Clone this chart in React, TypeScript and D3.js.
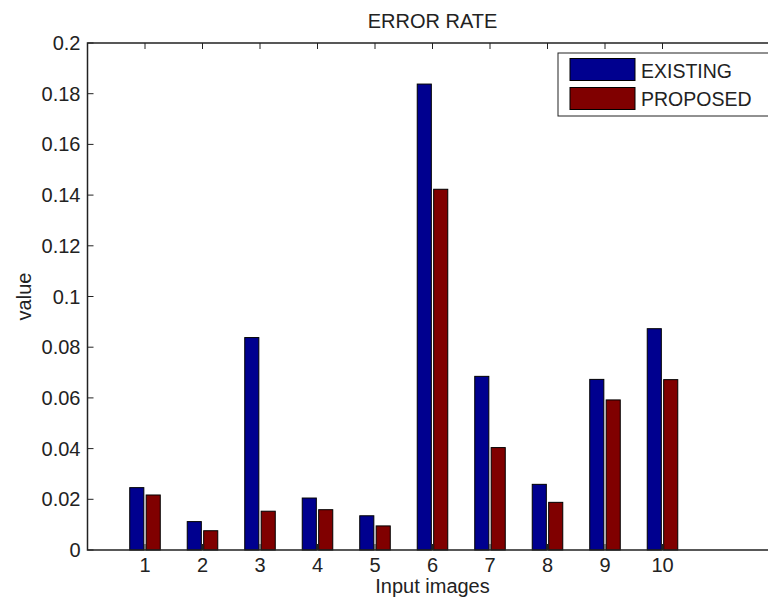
import React from 'react';
import * as d3 from 'd3';

const categories = ['1', '2', '3', '4', '5', '6', '7', '8', '9', '10'];
const existing = [0.0246, 0.0112, 0.0838, 0.0205, 0.0135, 0.1838, 0.0685, 0.0259, 0.0673, 0.0873];
const proposed = [0.0217, 0.0076, 0.0153, 0.0159, 0.0095, 0.1423, 0.0404, 0.0188, 0.0592, 0.0672];
const yTicks = [0, 0.02, 0.04, 0.06, 0.08, 0.1, 0.12, 0.14, 0.16, 0.18, 0.2];
const seriesNames = ['EXISTING', 'PROPOSED'];
const seriesColors = ['#00008f', '#800000'];

const WIDTH = 768,
    HEIGHT = 605;

const AXES = {
    LEFT: 87.5,
    RIGHT: 777.5,
    TOP: 43,
    BOTTOM: 550
};

const FONT = '"Liberation Sans", Arial, sans-serif';

// grouped bar geometry, in x units
const GROUP_WIDTH = Math.min(0.8, 2 / (2 + 1.5));
const BAR_WIDTH = 0.245;

export default function App() {
    const x = d3.scaleLinear().domain([0, 12]).range([AXES.LEFT, AXES.RIGHT]);
    const y = d3.scaleLinear().domain([0, 0.2]).range([AXES.BOTTOM, AXES.TOP]);

    const series = [existing, proposed];

    const bars = series.map((values, s) =>
        values.map((v, i) => {
            const center = i + 1 + (s === 0 ? -1 : 1) * GROUP_WIDTH / 4;
            const x0 = x(center - BAR_WIDTH / 2),
                x1 = x(center + BAR_WIDTH / 2);
            return (
                <rect key={`bar-${s}-${i}`} x={x0} y={y(v)} width={x1 - x0} height={y(0) - y(v)}
                    fill={seriesColors[s]} stroke='#000' strokeWidth={1} />
            );
        })
    );

    const fmt = (t: number) => (t === 0 ? '0' : String(+t.toFixed(2)));

    return (
        <svg width={WIDTH} height={HEIGHT} style={{ position: 'absolute', left: 0, top: 0, background: '#fff' }}
            fontFamily={FONT}>
            <rect x={0} y={0} width={WIDTH} height={HEIGHT} fill='#fff' />
            <g>{bars}</g>

            {/* axes box */}
            <path d={`M${AXES.LEFT},${AXES.BOTTOM}V${AXES.TOP}H${AXES.RIGHT}V${AXES.BOTTOM}Z`}
                fill='none' stroke='#222' strokeWidth={1.5} />

            {/* y ticks */}
            {yTicks.map((t, i) => (
                <g key={`yt-${i}`}>
                    <line x1={AXES.LEFT} x2={AXES.LEFT + 6} y1={y(t)} y2={y(t)} stroke='#222' strokeWidth={1} />
                    <line x1={AXES.RIGHT} x2={AXES.RIGHT - 6} y1={y(t)} y2={y(t)} stroke='#222' strokeWidth={1} />
                    <text x={AXES.LEFT - 7} y={y(t)} dy='0.35em' textAnchor='end' fontSize={20} fill='#222'>{fmt(t)}</text>
                </g>
            ))}

            {/* x ticks */}
            {categories.map((c, i) => (
                <g key={`xt-${i}`}>
                    <line x1={x(i + 1)} x2={x(i + 1)} y1={AXES.TOP} y2={AXES.TOP + 6} stroke='#222' strokeWidth={1} />
                    <line x1={x(i + 1)} x2={x(i + 1)} y1={AXES.BOTTOM} y2={AXES.BOTTOM - 6} stroke='#222' strokeWidth={1} />
                    <text x={x(i + 1)} y={572} textAnchor='middle' fontSize={20} fill='#222'>{c}</text>
                </g>
            ))}

            {/* labels */}
            <text x={(AXES.LEFT + AXES.RIGHT) / 2} y={28} textAnchor='middle' fontSize={20} fill='#222'>ERROR RATE</text>
            <text x={(AXES.LEFT + AXES.RIGHT) / 2} y={593} textAnchor='middle' fontSize={20} fill='#222'>Input images</text>
            <text transform={`translate(31,${(AXES.TOP + AXES.BOTTOM) / 2}) rotate(-90)`} textAnchor='middle'
                fontSize={20} fill='#222'>value</text>

            {/* legend */}
            <g>
                <rect x={558} y={53} width={214} height={63} fill='#fff' stroke='#222' strokeWidth={1} />
                {seriesNames.map((name, i) => (
                    <g key={`leg-${i}`}>
                        <rect x={570} y={58.5 + i * 29} width={65} height={22} fill={seriesColors[i]} stroke='#000' strokeWidth={1} />
                        <text x={641} y={77.5 + i * 28.5} fontSize={19.5} fill='#222'>{name}</text>
                    </g>
                ))}
            </g>
        </svg>
    );
}
